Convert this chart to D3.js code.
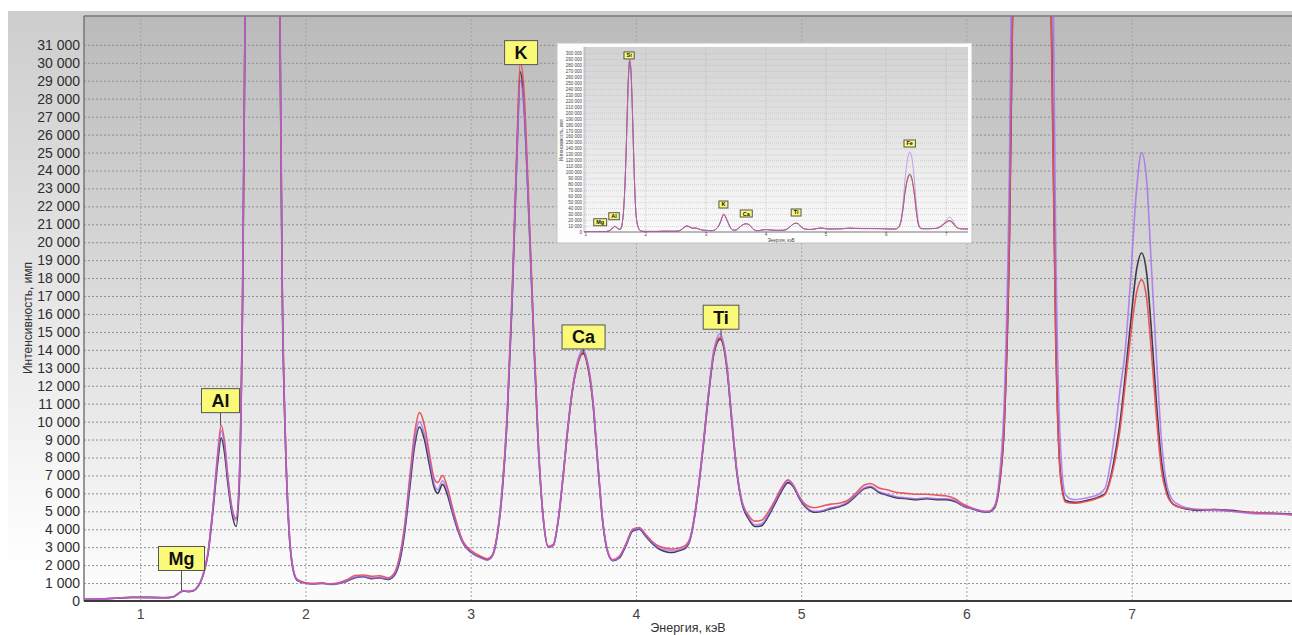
<!DOCTYPE html>
<html>
<head>
<meta charset="utf-8">
<script src="https://cdn.jsdelivr.net/npm/d3@7"></script>
<style>
body { margin: 0; background: #fff; }
text { font-family: Arial, "Liberation Sans", sans-serif; }
</style>
</head>
<body>
<script>
// energy grid, keV
var energy = [0.66, 0.75, 0.85, 0.95, 1.05, 1.15, 1.20, 1.23, 1.26, 1.29, 1.32, 1.35, 1.38, 1.41, 1.44, 1.47, 1.49, 1.51, 1.53, 1.555,
  1.58, 1.60, 1.62, 1.64, 1.66, 1.68, 1.70, 1.72, 1.74, 1.76, 1.78, 1.80, 1.82, 1.84, 1.86, 1.88, 1.90, 1.92, 1.95, 2.00,
  2.05, 2.10, 2.15, 2.20, 2.25, 2.30, 2.35, 2.40, 2.45, 2.50, 2.54, 2.57, 2.60, 2.63, 2.66, 2.69, 2.72, 2.75, 2.78, 2.80,
  2.83, 2.86, 2.89, 2.92, 2.95, 2.98, 3.02, 3.06, 3.10, 3.13, 3.16, 3.19, 3.22, 3.25, 3.28, 3.30, 3.32, 3.35, 3.38, 3.41,
  3.44, 3.47, 3.50, 3.53, 3.56, 3.59, 3.62, 3.65, 3.68, 3.71, 3.74, 3.77, 3.80, 3.83, 3.86, 3.90, 3.94, 3.98, 4.02, 4.06,
  4.10, 4.14, 4.18, 4.22, 4.26, 4.30, 4.33, 4.36, 4.40, 4.44, 4.47, 4.51, 4.55, 4.58, 4.61, 4.64, 4.68, 4.72, 4.76, 4.80,
  4.84, 4.88, 4.92, 4.95, 4.99, 5.03, 5.08, 5.13, 5.18, 5.23, 5.28, 5.33, 5.38, 5.42, 5.47, 5.52, 5.58, 5.64, 5.70, 5.76,
  5.82, 5.88, 5.93, 5.98, 6.03, 6.08, 6.13, 6.17, 6.20, 6.23, 6.26, 6.29, 6.32, 6.36, 6.40, 6.44, 6.48, 6.51, 6.54, 6.57,
  6.60, 6.65, 6.70, 6.75, 6.80, 6.84, 6.87, 6.90, 6.93, 6.96, 6.99, 7.03, 7.06, 7.09, 7.12, 7.15, 7.18, 7.21, 7.25, 7.30,
  7.35, 7.40, 7.50, 7.60, 7.70, 7.80, 7.90, 7.97];

// intensity, counts
var seriesDark = [90, 110, 150, 200, 200, 180, 230, 400, 560, 520, 560, 800, 1400, 2600, 5000, 7800, 9100, 8300, 6600, 4900,
  4150, 6500, 17000, 38000, 75000, 130000, 200000, 260000, 285000, 270000, 220000, 150000, 85000, 38000, 17000, 8500, 4000, 2000, 1150, 1000,
  950, 1000, 930, 980, 1100, 1300, 1350, 1250, 1280, 1200, 1450, 2200, 3800, 6200, 8600, 9700, 9000, 7600, 6300, 6000,
  6500, 5900, 4900, 4000, 3300, 2900, 2600, 2450, 2300, 2500, 3600, 6000, 10000, 16500, 25000, 29500, 28000, 22000, 15000, 8500,
  4500, 3000, 3100, 4500, 7000, 9800, 12000, 13300, 13800, 13000, 11000, 7500, 4300, 2700, 2250, 2400, 3100, 3900, 4000, 3600,
  3200, 2900, 2750, 2700, 2800, 2950, 3500, 5000, 8000, 11500, 13700, 14600, 13000, 10000, 7200, 5500, 4600, 4150, 4200, 4700,
  5400, 6100, 6600, 6400, 5700, 5200, 4950, 5000, 5150, 5250, 5450, 5850, 6250, 6350, 6050, 5900, 5750, 5700, 5650, 5700,
  5650, 5650, 5550, 5300, 5150, 5000, 4950, 5200, 6500, 10000, 20000, 40000, 65000, 88000, 97000, 88000, 62000, 35000, 15000, 7000,
  5600, 5500, 5550, 5650, 5800, 6000, 6800, 8200, 10000, 12500, 15200, 18500, 19400, 18300, 15000, 11000, 7800, 6200, 5400, 5200,
  5100, 5050, 5100, 5050, 4950, 4900, 4880, 4850];

var seriesRed = [100, 115, 160, 210, 200, 190, 240, 420, 580, 540, 580, 830, 1450, 2700, 5200, 8300, 9800, 8900, 7000, 5200,
  4600, 7000, 17500, 38500, 76000, 132000, 203000, 264000, 290000, 275000, 224000, 153000, 87000, 39000, 17500, 8800, 4200, 2100, 1200, 1020,
  980, 1000, 960, 1020, 1180, 1420, 1450, 1380, 1400, 1300, 1600, 2500, 4200, 6800, 9300, 10500, 9800, 8200, 6800, 6600,
  7000, 6300, 5200, 4200, 3400, 3000, 2700, 2500, 2350, 2550, 3700, 6200, 10300, 17000, 25500, 30000, 28800, 22500, 15300, 8700,
  4600, 3050, 3150, 4550, 7000, 9800, 12000, 13300, 13900, 13100, 11100, 7600, 4400, 2750, 2300, 2500, 3200, 4000, 4100, 3700,
  3300, 3050, 2950, 2900, 2950, 3100, 3600, 5100, 8100, 11600, 13800, 14700, 13100, 10100, 7300, 5600, 4800, 4450, 4500, 4950,
  5600, 6300, 6750, 6500, 5800, 5350, 5200, 5300, 5400, 5450, 5600, 6000, 6450, 6550, 6300, 6200, 6050, 6000, 5950, 5950,
  5900, 5850, 5700, 5400, 5200, 5050, 5000, 5250, 6600, 10200, 20500, 40500, 64000, 86000, 95000, 86000, 60000, 34000, 14500, 6800,
  5500, 5450, 5500, 5600, 5750, 5950, 6700, 7900, 9600, 12000, 14500, 17200, 17900, 16900, 13800, 10200, 7300, 6000, 5400, 5200,
  5150, 5100, 5100, 5000, 4950, 4900, 4850, 4800];

var seriesViolet = [95, 105, 150, 195, 190, 185, 235, 410, 570, 530, 570, 820, 1420, 2650, 5100, 8100, 9500, 8700, 6900, 5100,
  4500, 6900, 17300, 38200, 75500, 131000, 201000, 262000, 288000, 272000, 222000, 151000, 86000, 38500, 17200, 8600, 4100, 2050, 1180, 980,
  940, 970, 920, 970, 1120, 1330, 1370, 1280, 1300, 1230, 1500, 2350, 4000, 6500, 8900, 10000, 9300, 7900, 6500, 6200,
  6700, 6100, 5000, 4050, 3300, 2900, 2600, 2400, 2280, 2500, 3650, 6100, 10100, 16700, 24800, 29000, 27800, 21800, 14900, 8500,
  4500, 3000, 3100, 4550, 7100, 9900, 12100, 13500, 14000, 13200, 11200, 7600, 4350, 2700, 2250, 2450, 3150, 3950, 4050, 3650,
  3250, 2950, 2850, 2800, 2850, 3000, 3550, 5050, 8100, 11700, 13900, 14900, 13200, 10200, 7300, 5600, 4700, 4250, 4300, 4800,
  5500, 6200, 6700, 6450, 5750, 5250, 5000, 5050, 5200, 5300, 5500, 5900, 6300, 6400, 6100, 5950, 5800, 5750, 5700, 5750,
  5700, 5700, 5600, 5300, 5150, 5050, 4950, 5300, 7000, 11500, 24000, 50000, 85000, 120000, 134000, 122000, 85000, 48000, 20000, 8500,
  5900, 5650, 5700, 5800, 5950, 6300, 7600, 9500, 11800, 13900, 17500, 23000, 25000, 23500, 18500, 13500, 9000, 6600, 5600, 5300,
  5150, 5100, 5050, 5000, 4900, 4850, 4850, 4830];

var xTicks = [1, 2, 3, 4, 5, 6, 7];
var yTicks = d3.range(0, 31001, 1000);
var insetYTicks = d3.range(0, 300001, 10000);

// peak labels: element, energy, peak intensity, intensity at box bottom
var peakNames  = ["Mg", "Al", "K", "Ca", "Ti"];
var peakEnergy = [1.25, 1.486, 3.305, 3.683, 4.515];
var peakValue  = [575, 9800, 30000, 13800, 14700];
var peakBox    = [1700, 10500, 29900, 14050, 15150];

var insetNames  = ["Mg", "Al", "Si", "K", "Ca", "Ti", "Fe"];
var insetEnergy = [1.25, 1.48, 1.73, 3.30, 3.68, 4.51, 6.40];
var insetBox    = [10500, 20600, 290000, 40200, 25100, 26800, 142400];

var seriesColors = ["#3c3c4a", "#e8505a", "#a066f0"];
var seriesOpacity = [1, 0.95, 0.75];

var width = 1292, height = 635;
var plot = {left: 84, top: 16, right: 1292, bottom: 601};

var fmt = function(d) { return d3.format(",")(d).replace(/,/g, " "); };

var x = d3.scaleLinear().domain([0.66, 7.97]).range([plot.left, plot.right]);
var y = d3.scaleLinear().domain([0, 32610]).range([plot.bottom, plot.top]);

var svg = d3.select("body").append("svg")
    .attr("width", width)
    .attr("height", height);

var defs = svg.append("defs");
var g1 = defs.append("linearGradient").attr("id", "outerGrad")
    .attr("x1", 0).attr("y1", 0).attr("x2", 0).attr("y2", 1);
g1.append("stop").attr("offset", "0%").attr("stop-color", "#cdcdcd");
g1.append("stop").attr("offset", "90%").attr("stop-color", "#ffffff");
var g2 = defs.append("linearGradient").attr("id", "plotGrad")
    .attr("x1", 0).attr("y1", 0).attr("x2", 0).attr("y2", 1);
g2.append("stop").attr("offset", "0%").attr("stop-color", "#bababa");
g2.append("stop").attr("offset", "95%").attr("stop-color", "#fbfbfb");
var g3 = defs.append("linearGradient").attr("id", "insetGrad")
    .attr("x1", 0).attr("y1", 0).attr("x2", 0).attr("y2", 1);
g3.append("stop").attr("offset", "0%").attr("stop-color", "#d2d2d2");
g3.append("stop").attr("offset", "100%").attr("stop-color", "#fafafa");

defs.append("clipPath").attr("id", "plotClip")
  .append("rect")
    .attr("x", plot.left).attr("y", plot.top)
    .attr("width", plot.right - plot.left).attr("height", plot.bottom - plot.top);

// backgrounds
svg.append("rect")
    .attr("x", 8).attr("y", 11)
    .attr("width", width - 8).attr("height", height - 11)
    .attr("fill", "url(#outerGrad)");
svg.append("rect")
    .attr("x", plot.left).attr("y", plot.top)
    .attr("width", plot.right - plot.left).attr("height", plot.bottom - plot.top)
    .attr("fill", "url(#plotGrad)");

// grid
var yGrid = svg.append("g")
    .attr("transform", "translate(" + plot.left + ",0)")
    .call(d3.axisLeft(y).tickValues(yTicks.slice(1)).tickSize(-(plot.right - plot.left)).tickFormat(""));
yGrid.select(".domain").remove();
yGrid.selectAll("line").attr("stroke", "#8e8e8e").attr("stroke-dasharray", "2,2");

var xGrid = svg.append("g")
    .attr("transform", "translate(0," + plot.bottom + ")")
    .call(d3.axisBottom(x).tickValues(xTicks).tickSize(-(plot.bottom - plot.top)).tickFormat(""));
xGrid.select(".domain").remove();
xGrid.selectAll("line").attr("stroke", "#a4a4a4").attr("stroke-dasharray", "2,2");

// y labels
var yAxis = svg.append("g")
    .attr("transform", "translate(" + plot.left + ",0)")
    .call(d3.axisLeft(y).tickValues(yTicks).tickSize(0).tickPadding(4).tickFormat(fmt));
yAxis.select(".domain").remove();
yAxis.selectAll("text")
    .attr("font-size", 14).attr("fill", "#2e2e2e").attr("font-family", "Arial, 'Liberation Sans', sans-serif");

// x labels
var xAxis = svg.append("g")
    .attr("transform", "translate(0," + plot.bottom + ")")
    .call(d3.axisBottom(x).tickValues(xTicks).tickSize(0).tickPadding(8).tickFormat(d3.format("d")));
xAxis.select(".domain").remove();
xAxis.selectAll("text")
    .attr("font-size", 14).attr("fill", "#444").attr("font-family", "Arial, 'Liberation Sans', sans-serif");

// frame
svg.append("line")
    .attr("x1", plot.left).attr("x2", plot.right).attr("y1", plot.top).attr("y2", plot.top)
    .attr("stroke", "#8a8a8a").attr("stroke-width", 2);
svg.append("line")
    .attr("x1", plot.left).attr("x2", plot.left).attr("y1", plot.top).attr("y2", plot.bottom)
    .attr("stroke", "#777").attr("stroke-width", 1.5);
svg.append("line")
    .attr("x1", plot.left).attr("x2", plot.right).attr("y1", plot.bottom).attr("y2", plot.bottom)
    .attr("stroke", "#3a3a3a").attr("stroke-width", 2);

// axis titles
svg.append("text")
    .attr("x", 688).attr("y", 632)
    .attr("text-anchor", "middle")
    .attr("font-size", 12.5).attr("fill", "#333")
    .text("Энергия, кэВ");
svg.append("text")
    .attr("transform", "translate(32,318) rotate(-90)")
    .attr("text-anchor", "middle")
    .attr("font-size", 12).attr("fill", "#333")
    .text("Интенсивность, имп");

// spectra
var series = [seriesDark, seriesRed, seriesViolet];
var line = function(xs, ys, vals) {
  return d3.line()
    .x(function(d, i) { return xs(energy[i]); })
    .y(function(d) { return ys(d); })
    .curve(d3.curveMonotoneX)(vals);
};

var lines = svg.append("g").attr("clip-path", "url(#plotClip)");
series.forEach(function(s, k) {
  lines.append("path")
      .attr("d", line(x, y, s))
      .attr("fill", "none")
      .attr("stroke", seriesColors[k])
      .attr("stroke-opacity", seriesOpacity[k])
      .attr("stroke-width", 1.6);
});

// peak labels
var drawLabels = function(parent, names, ens, boxVals, peakVals, xs, ys, fs, h, pad) {
  names.forEach(function(n, i) {
    var cx = xs(ens[i]);
    var by = ys(boxVals[i]);
    if (peakVals) {
      parent.append("line")
          .attr("x1", cx).attr("x2", cx)
          .attr("y1", by).attr("y2", ys(peakVals[i]))
          .attr("stroke", "#555").attr("stroke-width", 1);
    }
    var r = parent.append("rect");
    var t = parent.append("text")
        .attr("x", cx).attr("y", by - h / 2 + fs * 0.36)
        .attr("text-anchor", "middle")
        .attr("font-size", fs).attr("font-weight", "bold").attr("fill", "#111")
        .text(n);
    var w = t.node().getComputedTextLength() + pad * 2;
    r.attr("x", cx - w / 2).attr("y", by - h)
        .attr("width", w).attr("height", h)
        .attr("fill", "#fafa78").attr("stroke", "#555").attr("stroke-width", 1);
  });
};
drawLabels(svg, peakNames, peakEnergy, peakBox, peakValue, x, y, 18, 24, 10);

/** INSET **/
var inset = {left: 584, top: 47, right: 968, bottom: 232};
var ix = d3.scaleLinear().domain([0.98, 7.37]).range([inset.left, inset.right]);
var iy = d3.scaleLinear().domain([0, 310000]).range([inset.bottom, inset.top]);

var ig = svg.append("g");
ig.append("rect")
    .attr("x", 557).attr("y", 43).attr("width", 415).attr("height", 200)
    .attr("fill", "#fdfdfd").attr("stroke", "#c4c4c4").attr("stroke-width", 1);
ig.append("rect")
    .attr("x", inset.left).attr("y", inset.top)
    .attr("width", inset.right - inset.left).attr("height", inset.bottom - inset.top)
    .attr("fill", "url(#insetGrad)");

defs.append("clipPath").attr("id", "insetClip")
  .append("rect")
    .attr("x", inset.left).attr("y", inset.top)
    .attr("width", inset.right - inset.left).attr("height", inset.bottom - inset.top);

var iyGrid = ig.append("g")
    .attr("transform", "translate(" + inset.left + ",0)")
    .call(d3.axisLeft(iy).tickValues(insetYTicks.slice(1)).tickSize(-(inset.right - inset.left)).tickFormat(""));
iyGrid.select(".domain").remove();
iyGrid.selectAll("line").attr("stroke", "#b4b4b4").attr("stroke-width", 0.5).attr("stroke-dasharray", "1,1");

var ixGrid = ig.append("g")
    .attr("transform", "translate(0," + inset.bottom + ")")
    .call(d3.axisBottom(ix).tickValues(xTicks).tickSize(-(inset.bottom - inset.top)).tickFormat(""));
ixGrid.select(".domain").remove();
ixGrid.selectAll("line").attr("stroke", "#b0b0b0").attr("stroke-width", 0.6).attr("stroke-dasharray", "1,1");

var iyAxis = ig.append("g")
    .attr("transform", "translate(" + inset.left + ",0)")
    .call(d3.axisLeft(iy).tickValues(insetYTicks).tickSize(0).tickPadding(2).tickFormat(fmt));
iyAxis.select(".domain").remove();
iyAxis.selectAll("text").attr("font-size", 4.5).attr("fill", "#444");

var ixAxis = ig.append("g")
    .attr("transform", "translate(0," + inset.bottom + ")")
    .call(d3.axisBottom(ix).tickValues(xTicks).tickSize(0).tickPadding(1).tickFormat(d3.format("d")));
ixAxis.select(".domain").remove();
ixAxis.selectAll("text").attr("font-size", 4.5).attr("fill", "#444");

ig.append("line")
    .attr("x1", inset.left).attr("x2", inset.right).attr("y1", inset.bottom).attr("y2", inset.bottom)
    .attr("stroke", "#555").attr("stroke-width", 0.8);
ig.append("line")
    .attr("x1", inset.left).attr("x2", inset.left).attr("y1", inset.top).attr("y2", inset.bottom)
    .attr("stroke", "#999").attr("stroke-width", 0.6);

ig.append("text")
    .attr("x", 781).attr("y", 242)
    .attr("text-anchor", "middle").attr("font-size", 4.5).attr("fill", "#444")
    .text("Энергия, кэВ");
ig.append("text")
    .attr("transform", "translate(563,140) rotate(-90)")
    .attr("text-anchor", "middle").attr("font-size", 4.5).attr("fill", "#444")
    .text("Интенсивность, имп");

var ilines = ig.append("g").attr("clip-path", "url(#insetClip)");
series.forEach(function(s, k) {
  ilines.append("path")
      .attr("d", line(ix, iy, s))
      .attr("fill", "none")
      .attr("stroke", seriesColors[k])
      .attr("stroke-opacity", seriesOpacity[k])
      .attr("stroke-width", 0.8);
});

drawLabels(ig, insetNames, insetEnergy, insetBox, null, ix, iy, 5.5, 7, 2.5);
</script>
</body>
</html>
